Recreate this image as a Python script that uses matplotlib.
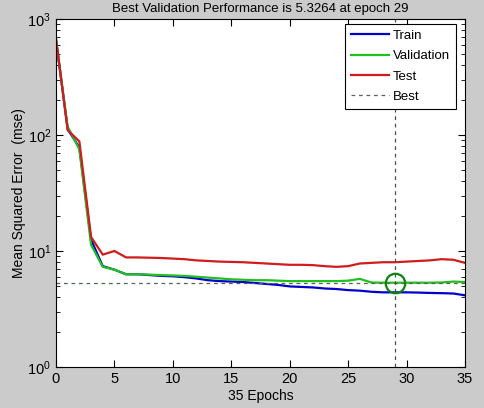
import matplotlib
matplotlib.use('Agg')
import matplotlib.pyplot as plt

plt.rcParams['font.family'] = ['Liberation Sans', 'DejaVu Sans']

epochs = list(range(36))
train = [660, 112, 78, 12.5, 7.4, 6.9, 6.3, 6.3, 6.2, 6.1, 6.05, 5.95, 5.8, 5.6, 5.5,
         5.45, 5.4, 5.3, 5.2, 5.1, 4.95, 4.9, 4.85, 4.75, 4.7, 4.6, 4.55, 4.45, 4.4,
         4.4, 4.4, 4.38, 4.35, 4.33, 4.3, 4.15]
validation = [650, 118, 75, 11.3, 7.3, 6.9, 6.3, 6.3, 6.25, 6.2, 6.15, 6.1, 6.0, 5.9,
              5.8, 5.7, 5.65, 5.6, 5.6, 5.55, 5.5, 5.5, 5.5, 5.5, 5.5, 5.55, 5.75, 5.35,
              5.33, 5.3264, 5.33, 5.33, 5.33, 5.35, 5.45, 5.4]
test = [680, 110, 88, 13.2, 9.3, 10.0, 8.8, 8.8, 8.75, 8.7, 8.6, 8.5, 8.3, 8.2, 8.1,
        8.05, 8.0, 7.9, 7.8, 7.7, 7.6, 7.6, 7.55, 7.4, 7.3, 7.4, 7.8, 7.9, 8.0, 8.0,
        8.1, 8.2, 8.3, 8.5, 8.4, 7.9]
best_epoch = 29
best_perf = 5.3264

fig = plt.figure(figsize=(4.84, 4.08), dpi=100, facecolor='#cbcbcb')
ax = fig.add_axes([0.1157, 0.1005, 0.845, 0.853])

ax.semilogy(epochs, train, color='#0000cc', lw=1.6, label='Train')
ax.semilogy(epochs, validation, color='#20c020', lw=1.6, label='Validation')
ax.semilogy(epochs, test, color='#d01c1c', lw=1.6, label='Test')
ax.axhline(best_perf, color='#556655', lw=0.9, ls=(0, (3, 3)), label='Best')
ax.axvline(best_epoch, color='#445544', lw=0.9, ls=(0, (3, 3)))
ax.plot([best_epoch], [best_perf], 'o', mfc='none', mec='#108010', ms=14, mew=1.6)

ax.set_xlim(0, 35)
ax.set_ylim(1, 1000)
ax.set_xticks(range(0, 36, 5))
ax.tick_params(which='both', direction='in', top=True, right=True, labelsize=10.5)
ax.tick_params(which='major', length=5)
ax.tick_params(which='minor', length=3)
ax.set_xlabel('35 Epochs', fontsize=10, labelpad=2)
ax.set_ylabel('Mean Squared Error  (mse)', fontsize=10, labelpad=1)

leg = ax.legend(loc='upper right', fontsize=9.5, fancybox=False, framealpha=1,
                edgecolor='black', borderaxespad=0.35, handlelength=2.9,
                handletextpad=0.3, labelspacing=0.62, borderpad=0.45,
                bbox_to_anchor=(0.99, 1.0))
leg.get_frame().set_linewidth(0.8)

fig.text(0.537, 1 - 12 / 408, 'Best Validation Performance is 5.3264 at epoch 29',
         ha='center', va='baseline', fontsize=9.5)

fig.savefig('out.png', dpi=100, facecolor=fig.get_facecolor())
